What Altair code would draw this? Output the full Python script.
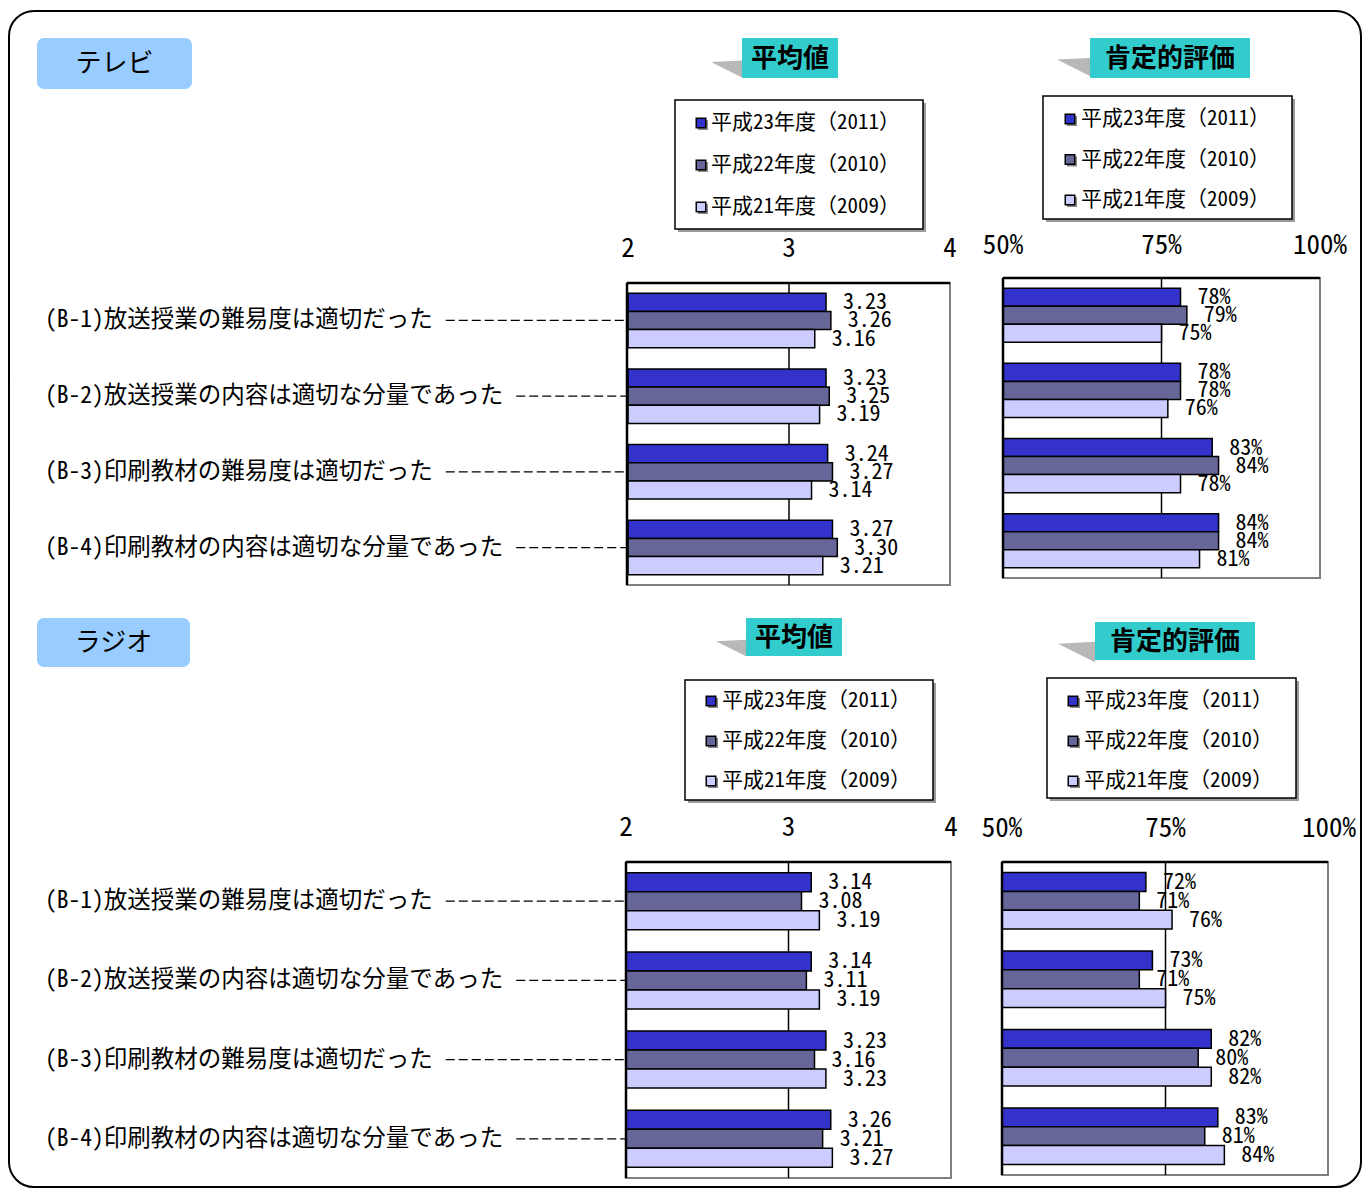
import altair as alt
import pandas as pd

# ---------------- data ----------------
categories = [
    "(B-1)放送授業の難易度は適切だった",
    "(B-2)放送授業の内容は適切な分量であった",
    "(B-3)印刷教材の難易度は適切だった",
    "(B-4)印刷教材の内容は適切な分量であった",
]
years = ["平成23年度（2011）", "平成22年度（2010）", "平成21年度（2009）"]
year_colors = ["#3333CC", "#666699", "#CCCCFF"]

tv_mean_2011 = [3.23, 3.23, 3.24, 3.27]
tv_mean_2010 = [3.26, 3.25, 3.27, 3.30]
tv_mean_2009 = [3.16, 3.19, 3.14, 3.21]
tv_pos_2011 = [78, 78, 83, 84]
tv_pos_2010 = [79, 78, 84, 84]
tv_pos_2009 = [75, 76, 78, 81]

radio_mean_2011 = [3.14, 3.14, 3.23, 3.26]
radio_mean_2010 = [3.08, 3.11, 3.16, 3.21]
radio_mean_2009 = [3.19, 3.19, 3.23, 3.27]
radio_pos_2011 = [72, 73, 82, 83]
radio_pos_2010 = [71, 71, 80, 81]
radio_pos_2009 = [76, 75, 82, 84]

mean_ticks = [2, 3, 4]
mean_tick_labels = ["2", "3", "4"]
pos_ticks = [50, 75, 100]
pos_tick_labels = ["50%", "75%", "100%"]

section_titles = ["テレビ", "ラジオ"]
panel_titles = ["平均値", "肯定的評価"]

# ---------------- layout helpers ----------------
OFF = 8
W, H = 1354, 1180
CJK = "Noto Sans Mono CJK JP, Noto Sans CJK JP, sans-serif"
CJKB = "Noto Sans CJK JP, sans-serif"
ONE = alt.Data(values=[{"k": 0}])
color_scale = alt.Scale(domain=years, range=year_colors)


def px(v):
    return v - OFF


def vrect(x0, x1, y0, y1, **kw):
    return alt.Chart(ONE).mark_rect(**kw).encode(
        x=alt.value(px(x0)), x2=alt.value(px(x1)),
        y=alt.value(px(y0)), y2=alt.value(px(y1)))


def label_width(s, fs):
    return sum(0.5 * fs if ord(ch) < 128 else fs for ch in s)


def panel(series, fmt, domain, xr, frame, ticks, tick_labels, tick_y, grid,
          cats_x=None, cat_fs=23.5):
    x0, x1, y0, y1 = frame
    rows = []
    for yr, vals in zip(years, series):
        for c, v in zip(categories, vals):
            rows.append({"cat": c, "year": yr, "value": v, "label": fmt(v)})
    df = pd.DataFrame(rows)
    xs = alt.Scale(domain=domain, range=[px(xr[0]), px(xr[1])], nice=False, zero=False)
    ys = alt.Scale(domain=categories, range=[px(y0), px(y1)],
                   paddingInner=0.28, paddingOuter=0.135)
    yo = alt.Scale(domain=years, paddingInner=0, paddingOuter=0)

    bg = vrect(x0, x1, y0, y1, fill="white", stroke="#808080", strokeWidth=2)
    gridrule = alt.Chart(ONE).mark_rule(color="black", strokeWidth=1.5).encode(
        x=alt.XDatum(grid, scale=xs, axis=None),
        y=alt.value(px(y0)), y2=alt.value(px(y1)))
    bars = alt.Chart(df).mark_bar(stroke="black", strokeWidth=1.5).encode(
        x=alt.X("value:Q", scale=xs, axis=None),
        x2=alt.datum(domain[0]),
        y=alt.Y("cat:N", scale=ys, axis=None, sort=categories),
        yOffset=alt.YOffset("year:N", scale=yo, sort=years),
        fill=alt.Fill("year:N", scale=color_scale, legend=None),
    )
    top = alt.Chart(ONE).mark_rule(color="black", strokeWidth=2.5).encode(
        x=alt.value(px(x0)), x2=alt.value(px(x1)), y=alt.value(px(y0)))
    left = alt.Chart(ONE).mark_rule(color="black", strokeWidth=2.5).encode(
        x=alt.value(px(x0)), y=alt.value(px(y0)), y2=alt.value(px(y1)))
    labels = alt.Chart(df).mark_text(align="left", baseline="middle", dx=17,
                                     font=CJK, fontSize=22).encode(
        x=alt.X("value:Q", scale=xs, axis=None),
        y=alt.Y("cat:N", scale=ys, axis=None, sort=categories),
        yOffset=alt.YOffset("year:N", scale=yo, sort=years),
        text="label:N",
    )
    tdf = pd.DataFrame({"tick": ticks, "tlab": tick_labels})
    tick_text = alt.Chart(tdf).mark_text(align="center", baseline="middle",
                                         font=CJK, fontSize=27).encode(
        x=alt.X("tick:Q", scale=xs, axis=None),
        y=alt.value(px(tick_y)),
        text="tlab:N",
    )
    layers = [bg, gridrule, bars, top, left, labels, tick_text]
    if cats_x is not None:
        cdf = pd.DataFrame({"cat": categories})
        cdf["start"] = [px(cats_x + label_width(c, cat_fs) + 13) for c in categories]
        cat_text = alt.Chart(cdf).mark_text(align="left", baseline="middle",
                                            font=CJK, fontSize=cat_fs).encode(
            x=alt.value(px(cats_x)),
            y=alt.Y("cat:N", scale=ys, axis=None, sort=categories),
            text="cat:N",
        )
        leaders = alt.Chart(cdf).mark_rule(color="black", strokeWidth=1.2,
                                           strokeDash=[9, 4]).encode(
            x=alt.X("start:Q", scale=None, axis=None),
            x2=alt.value(px(x0)),
            y=alt.Y("cat:N", scale=ys, axis=None, sort=categories),
        )
        layers += [leaders, cat_text]
    return alt.layer(*layers)


def legend(box, rows, marker_cx, text_x):
    x0, x1, y0, y1 = box
    ldf = pd.DataFrame({"year": years})
    ly = alt.Scale(type="point", domain=years, range=[px(rows[0]), px(rows[1])], padding=0)
    shadow = vrect(x0 + 3, x1 + 3, y0 + 3, y1 + 3, fill="#9a9a9a")
    frame = vrect(x0, x1, y0, y1, fill="white", stroke="black", strokeWidth=1.5)
    mshadow = alt.Chart(ldf).mark_square(size=100, opacity=1, color="#888888").encode(
        x=alt.value(px(marker_cx + 2)),
        y=alt.Y("year:N", scale=ly, axis=None, sort=years),
        yOffset=alt.value(2))
    marks = alt.Chart(ldf).mark_square(size=90, opacity=1, stroke="black", strokeWidth=1.5).encode(
        x=alt.value(px(marker_cx)),
        y=alt.Y("year:N", scale=ly, axis=None, sort=years),
        fill=alt.Fill("year:N", scale=color_scale, legend=None))
    texts = alt.Chart(ldf).mark_text(align="left", baseline="middle", font=CJK, fontSize=21).encode(
        x=alt.value(px(text_x)),
        y=alt.Y("year:N", scale=ly, axis=None, sort=years),
        text="year:N")
    return alt.layer(shadow, frame, mshadow, marks, texts)


def title_box(x0, x1, y0, y1, text, tri_x0, tri_cy):
    tri_w = x0 - tri_x0
    tri = alt.Chart(ONE).mark_point(shape="M-1,-0.45L1,-0.55L1,0.55Z", size=tri_w ** 2,
                                    filled=True, fill="#b8b8b8", opacity=1, strokeWidth=0).encode(
        x=alt.value(px((tri_x0 + x0) / 2)), y=alt.value(px(tri_cy)))
    box = vrect(x0, x1, y0, y1, fill="#33CCCC")
    txt = alt.Chart(ONE).mark_text(font=CJKB, fontSize=26, fontWeight="bold", align="center",
                                   baseline="middle").encode(
        x=alt.value(px((x0 + x1) / 2)), y=alt.value(px((y0 + y1) / 2 + 1)),
        text=alt.value(text))
    return [tri, box, txt]


def section_box(x0, x1, y0, y1, text):
    box = vrect(x0, x1, y0, y1, fill="#99CCFF", cornerRadius=7)
    txt = alt.Chart(ONE).mark_text(font=CJKB, fontSize=26, align="center", baseline="middle").encode(
        x=alt.value(px((x0 + x1) / 2)), y=alt.value(px((y0 + y1) / 2)),
        text=alt.value(text))
    return [box, txt]


fmt_mean = lambda v: f"{v:.2f}"
fmt_pos = lambda v: f"{v}%"

layers = []
layers.append(vrect(9, 1361, 11, 1187, fill="white", fillOpacity=0, stroke="black",
                    strokeWidth=2, cornerRadius=25))

# ---- テレビ ----
layers += section_box(37, 192, 38, 89, section_titles[0])
layers += title_box(742, 838, 38, 78, panel_titles[0], 711, 69)
layers += title_box(1090, 1250, 38, 78, panel_titles[1], 1057, 67)
layers.append(legend((675, 923, 100, 229), (123, 207), 701, 711))
layers.append(legend((1043, 1292, 96, 219), (119, 200), 1070, 1081))
layers.append(panel([tv_mean_2011, tv_mean_2010, tv_mean_2009], fmt_mean, [2, 4], (628, 950),
                    (627, 950, 283, 585), mean_ticks, mean_tick_labels, 249, 3, cats_x=45))
layers.append(panel([tv_pos_2011, tv_pos_2010, tv_pos_2009], fmt_pos, [50, 100], (1003, 1320),
                    (1003, 1320, 278, 578), pos_ticks, pos_tick_labels, 246, 75))

# ---- ラジオ ----
layers += section_box(37, 190, 618, 667, section_titles[1])
layers += title_box(746, 842, 618, 656, panel_titles[0], 716, 648)
layers += title_box(1095, 1255, 622, 660, panel_titles[1], 1058, 652)
layers.append(legend((685, 933, 680, 800), (701, 781), 711, 722))
layers.append(legend((1047, 1296, 678, 798), (701, 781), 1073, 1084))
layers.append(panel([radio_mean_2011, radio_mean_2010, radio_mean_2009], fmt_mean, [2, 4], (626, 951),
                    (626, 951, 862, 1178), mean_ticks, mean_tick_labels, 828, 3, cats_x=45))
layers.append(panel([radio_pos_2011, radio_pos_2010, radio_pos_2009], fmt_pos, [50, 100], (1002, 1329),
                    (1002, 1328, 862, 1175), pos_ticks, pos_tick_labels, 829, 75))

chart = alt.layer(*layers).resolve_scale(
    x="independent", y="independent", yOffset="independent"
).properties(
    width=W, height=H, padding=0, autosize=alt.AutoSizeParams(type="none")
).configure_view(strokeWidth=0)

chart.save("out.html", embed_options={"renderer": "svg", "actions": False})
